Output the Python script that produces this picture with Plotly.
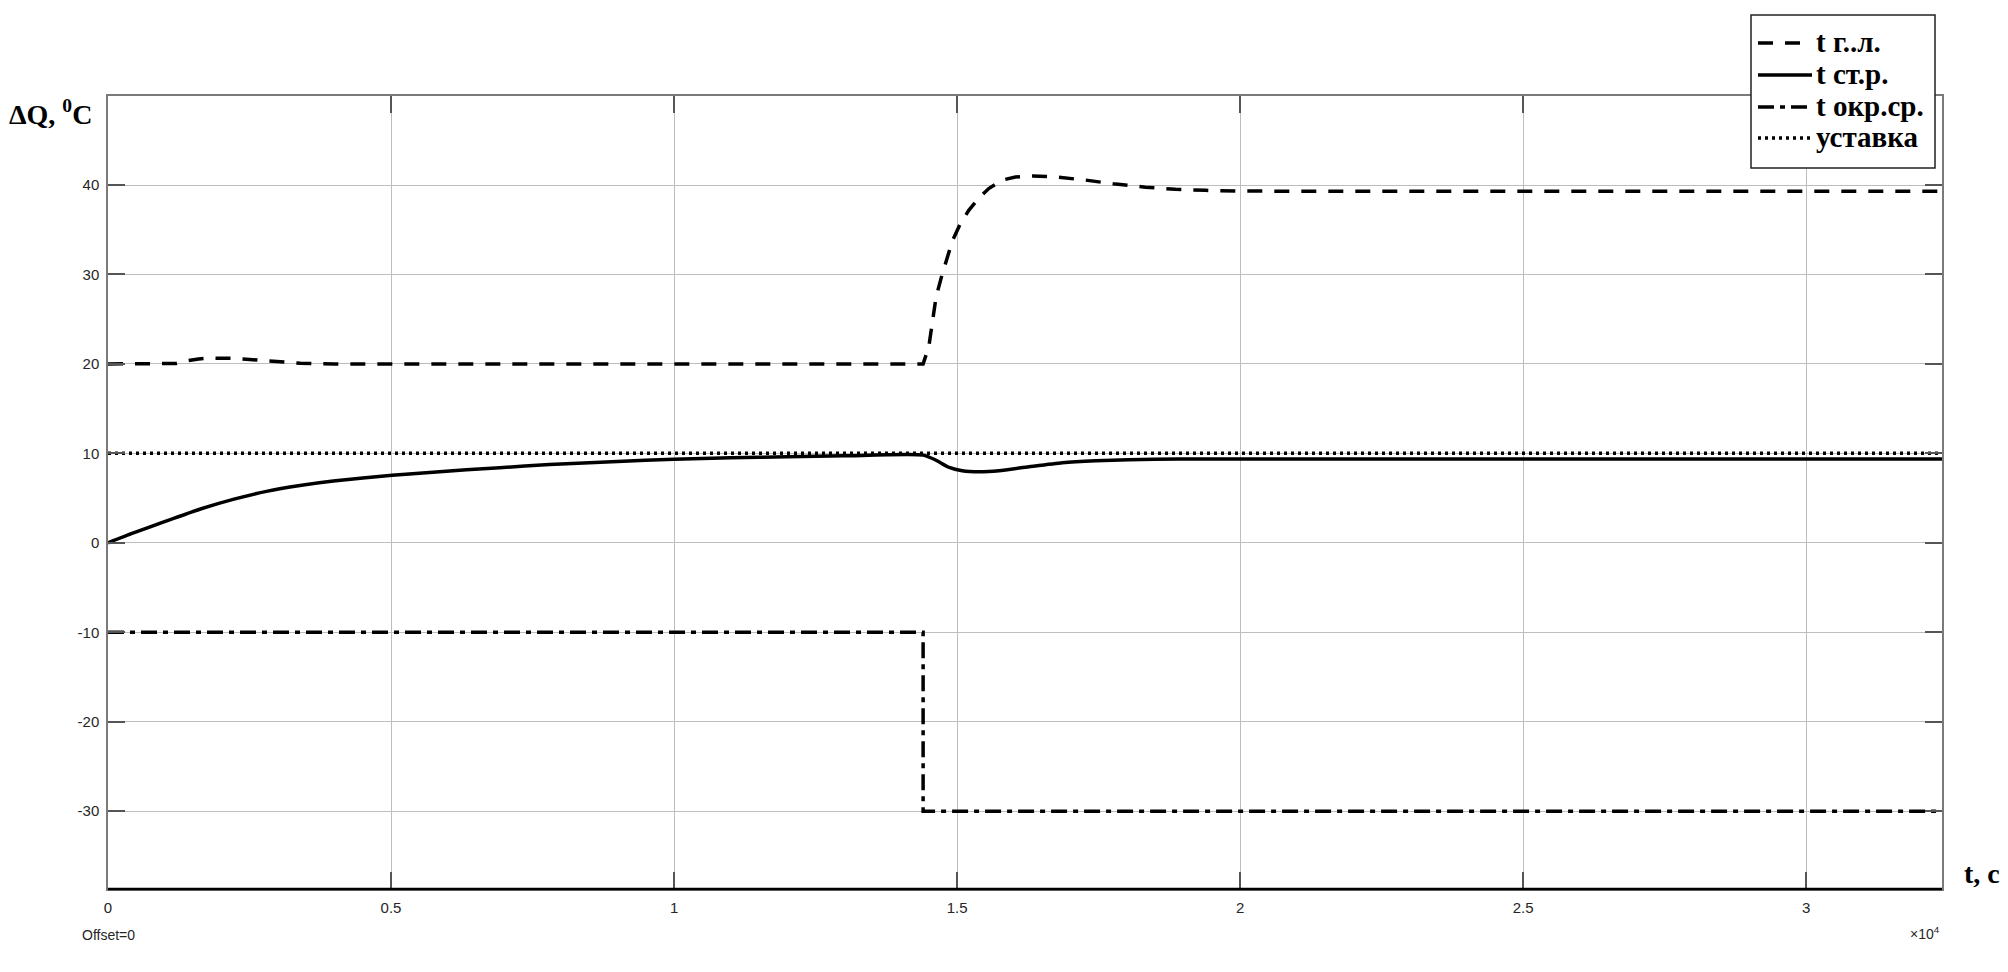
import plotly.graph_objects as go

# ---------------- data (time in seconds, temperatures in °C) ----------------
t_gl = [0, 1000, 1200, 1400, 1600, 1800, 2000, 2200, 2500, 2800, 3100, 3400, 3700, 4000,
        14400, 14500, 14560, 14630, 14740, 14830, 14920, 15060, 15210, 15380, 15560,
        15800, 16030, 16330, 16740, 17270, 17800, 18330, 18860, 19390, 19920, 21000, 32400]
v_gl = [20, 20, 20.05, 20.35, 20.55, 20.65, 20.67, 20.62, 20.5, 20.35, 20.2, 20.08, 20.02, 20,
        20, 21.9, 24.5, 27.5, 30.1, 32.0, 33.8, 35.7, 37.2, 38.5, 39.6,
        40.55, 40.9, 41.0, 40.9, 40.55, 40.1, 39.75, 39.52, 39.4, 39.33, 39.3, 39.3]

t_str = [0, 450, 1035, 1620, 2210, 2800, 3390, 3980, 5020, 5740, 6920, 7800, 9000, 10000,
         11000, 12000, 13000, 14400, 14620, 14860, 15090, 15390, 15740, 16270, 16860,
         17450, 18030, 18920, 20000, 32400]
v_str = [0, 1.1, 2.45, 3.75, 4.85, 5.75, 6.4, 6.9, 7.55, 7.9, 8.4, 8.75, 9.1, 9.35,
         9.5, 9.62, 9.72, 9.8, 9.26, 8.43, 8.06, 7.94, 8.06, 8.5, 8.96,
         9.18, 9.29, 9.36, 9.36, 9.36]

t_okr = [0, 14400, 14400, 32400]
v_okr = [-10, -10, -30, -30]

t_ust = [0, 32400]
v_ust = [10, 10]

names = ["t г..л.", "t ст.р.", "t окр.ср.", "уставка"]

x_ticks = [0, 0.5, 1, 1.5, 2, 2.5, 3]          # in units of 1e4 s
y_ticks = [-30, -20, -10, 0, 10, 20, 30, 40]
x_range = [0, 32400]
y_range = [-38.7, 49.95]

# ---------------- styles ----------------
dash_styles = ["15px,12px", "solid", "16px,6px,5px,6px", "3px,4px"]
LW = 3.5

fig = go.Figure()
series = [(t_gl, v_gl), (t_str, v_str), (t_okr, v_okr), (t_ust, v_ust)]
for i, (tx, vy) in enumerate(series):
    line = dict(color="black", width=LW, dash=dash_styles[i])
    if i == 1:
        line.update(shape="spline", smoothing=0.6)
    fig.add_trace(go.Scatter(x=tx, y=vy, mode="lines", name=names[i], line=line,
                             showlegend=False))

axis_common = dict(
    showline=True, linecolor="#7a7a7a", linewidth=1.5, mirror="ticks",
    ticks="inside", ticklen=17, tickcolor="#555555", tickwidth=1.5,
    showgrid=True, gridcolor="#bdbdbd", gridwidth=1, zeroline=False,
    tickfont=dict(family="Liberation Sans, Arial, sans-serif", size=15, color="#262626"),
)

fig.update_layout(
    width=2008, height=972,
    margin=dict(l=108, r=66, t=96, b=83),
    paper_bgcolor="white", plot_bgcolor="white",
    xaxis=dict(range=x_range, tickvals=[v * 1e4 for v in x_ticks],
               ticktext=[f"{v:g}" for v in x_ticks], ticklabelstandoff=4, **axis_common),
    yaxis=dict(range=y_range, tickvals=y_ticks, ticktext=[str(v) for v in y_ticks],
               ticklabelstandoff=4, **axis_common),
    showlegend=False,
)

# bottom axis line drawn black and heavier
fig.add_shape(type="line", xref="paper", yref="paper", x0=0, x1=1, y0=0, y1=0,
              line=dict(color="black", width=2.5), layer="above")

# ---------------- legend box (top-right, overlapping the frame) ----------------
PLOT_TOP, PLOT_BOT, PLOT_L, PLOT_W = 96, 889, 108, 1834
def py(ypx):
    return (PLOT_BOT - ypx) / (PLOT_BOT - PLOT_TOP)
def px(xpx):
    return (xpx - PLOT_L) / PLOT_W

fig.add_shape(type="rect", xref="paper", yref="paper",
              x0=px(1751), x1=px(1935), y0=py(168), y1=py(15),
              fillcolor="white", line=dict(color="#222222", width=1.5), layer="above")
legend_rows = [43, 75, 107, 138]
legend_font = dict(family="Liberation Serif, Times New Roman, serif", size=29,
                   color="black", weight="bold")
for i, row in enumerate(legend_rows):
    fig.add_shape(type="line", xref="paper", yref="paper",
                  x0=px(1758), x1=px(1812), y0=py(row), y1=py(row),
                  line=dict(color="black", width=LW, dash=dash_styles[i]), layer="above")
    fig.add_annotation(text=names[i], xref="paper", yref="paper",
                       x=px(1814), y=py(row - 1), xanchor="left", yanchor="middle",
                       showarrow=False, font=legend_font)

serif_bold = dict(family="Liberation Serif, Times New Roman, serif", size=28, color="black", weight="bold")
sans = dict(family="Liberation Sans, Arial, sans-serif", size=14, color="#262626")

fig.add_annotation(text="ΔQ, <sup>0</sup>C", xref="paper", yref="paper",
                   x=-0.0551, y=0.979, xanchor="left", yanchor="middle",
                   showarrow=False, font=serif_bold)
fig.add_annotation(text="t, c", xref="paper", yref="paper",
                   x=1.0109, y=0.0195, xanchor="left", yanchor="middle",
                   showarrow=False, font=serif_bold)
fig.add_annotation(text="Offset=0", xref="paper", yref="paper",
                   x=-0.0153, y=-0.0574, xanchor="left", yanchor="middle",
                   showarrow=False, font=sans)
fig.add_annotation(text="×10<sup>4</sup>", xref="paper", yref="paper",
                   x=1.0, y=-0.055, xanchor="right", yanchor="middle",
                   showarrow=False, font=dict(family="Liberation Sans, Arial, sans-serif", size=14, color="#262626"))

fig.write_html("out.html", config={"displayModeBar": False},
               post_script="document.body.style.margin='0';document.body.style.overflow='hidden';")
